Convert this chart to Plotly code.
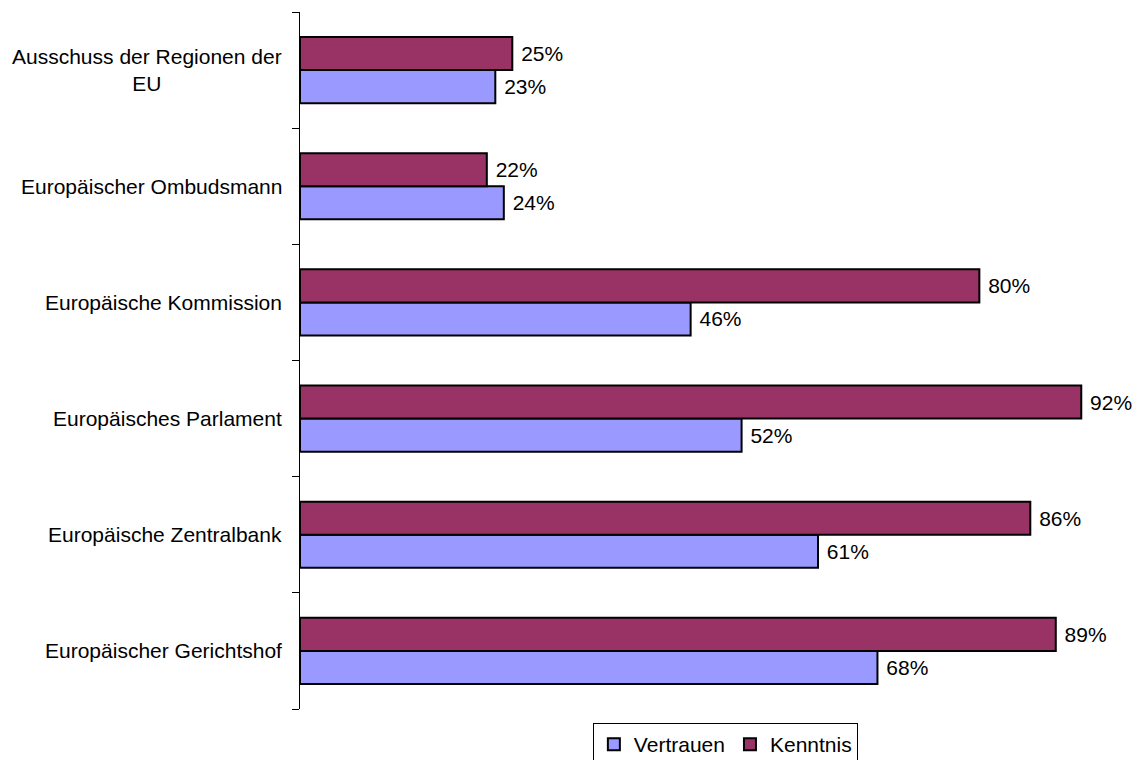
import plotly.graph_objects as go

categories = [
    "Ausschuss der Regionen der<br>EU",
    "Europäischer Ombudsmann",
    "Europäische Kommission",
    "Europäisches Parlament",
    "Europäische Zentralbank",
    "Europäischer Gerichtshof",
]
vertrauen = [23, 24, 46, 52, 61, 68]
kenntnis = [25, 22, 80, 92, 86, 89]

FONT = "Liberation Sans, Arial, sans-serif"
FS = 21

fig = go.Figure()
fig.add_trace(go.Bar(
    name="Vertrauen", y=categories, x=vertrauen, orientation="h",
    marker=dict(color="#9999FF", line=dict(color="black", width=2)),
    text=[f" {v}%" for v in vertrauen], textposition="outside",
    textfont=dict(size=FS, color="black", family=FONT), cliponaxis=False,
))
fig.add_trace(go.Bar(
    name="Kenntnis", y=categories, x=kenntnis, orientation="h",
    marker=dict(color="#993366", line=dict(color="black", width=2)),
    text=[f" {v}%" for v in kenntnis], textposition="outside",
    textfont=dict(size=FS, color="black", family=FONT), cliponaxis=False,
))

for c in categories:
    fig.add_annotation(
        x=0, xref="paper", y=c, yref="y", text=c, showarrow=False,
        xanchor="right", align="center", xshift=-16,
        font=dict(size=FS, color="black", family=FONT),
    )

fig.update_layout(
    width=1139, height=760,
    margin=dict(l=300, r=0, t=12, b=51, autoexpand=False),
    paper_bgcolor="white", plot_bgcolor="white",
    barmode="group", bargap=0.43, bargroupgap=0,
    font=dict(family=FONT, size=FS, color="black"),
    xaxis=dict(range=[0, 98.8], visible=False, fixedrange=True),
    yaxis=dict(
        categoryorder="array", categoryarray=categories[::-1],
        range=[-0.5, 5.5], showticklabels=False, fixedrange=True,
        showline=True, linecolor="black", linewidth=1,
        ticks="outside", tickson="boundaries", ticklen=7,
        tickcolor="black", tickwidth=1, showgrid=False, zeroline=False,
    ),
    legend=dict(
        orientation="h", x=0.507, xanchor="center", y=-14 / 697, yanchor="top",
        bordercolor="black", borderwidth=1, font=dict(size=FS, family=FONT),
        traceorder="normal", itemwidth=30,
    ),
)

fig.write_html(
    "out.html",
    config={"displayModeBar": False},
    post_script="document.body.style.margin='0';document.body.style.overflow='hidden';",
)
